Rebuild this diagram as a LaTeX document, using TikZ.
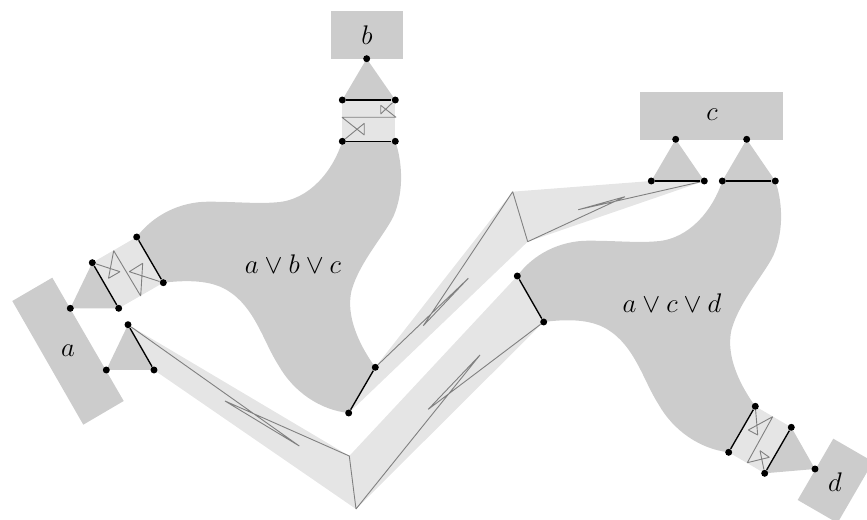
\documentclass[tikz,border=0pt]{standalone}
\usetikzlibrary{backgrounds}
\begin{document}
\begin{tikzpicture}[x=0.446pt, y=-0.446pt,
  port/.style={shape=circle, fill=black, inner sep=0pt, minimum size=3.1pt, node contents=},
  base/.style={draw=black, line width=0.6pt},
  strand/.style={draw=black!50, line width=0.4pt, line join=bevel},
  block/.style={fill=black!20},
  body/.style={fill=black!20},
  wire/.style={fill=black!10},
  lab/.style={font=\large},
]
\useasboundingbox (0,0) rectangle (867,520);
\clip (0,0) rectangle (867,520);

%ports at a
\draw node (a1) at (70.3,308.3) [port] node (a2) at (92.3,262.7) [port] node (a3) at (118.7,308.3) [port];
\draw node (a4) at (136.7,237) [port] node (a5) at (163.3,282.7) [port];
\draw node (a6) at (106.3,370) [port] node (a7) at (128,324.7) [port] node (a8) at (154,370) [port];

%ports at b
\draw node (b1) at (366.7,58.7) [port] node (b2) at (342.3,100) [port] node (b3) at (395.3,100) [port];
\draw node (b4) at (342.3,141.3) [port] node (b5) at (395.3,141.3) [port];

%ports at c
\draw node (c1) at (675.7,139.3) [port] node (c2) at (651.3,181) [port] node (c3) at (704.3,181) [port];
\draw node (c4) at (746.7,139.3) [port] node (c5) at (722.3,181) [port] node (c6) at (775.3,181) [port];

%ports at d
\draw node (d1) at (815,469) [port] node (d2) at (791.3,427.3) [port] node (d3) at (764.7,473.3) [port];
\draw node (d4) at (755.3,406.3) [port] node (d5) at (728.7,452.3) [port];

%ports of the two joins
\draw node (e1) at (375.3,367.3) [port] node (e2) at (348.7,413) [port];
\draw node (f1) at (517.3,276) [port] node (f2) at (543.7,322) [port];

\begin{scope}[on background layer]
%blocks
\fill[block] (331,11) rectangle (403,59);
\fill[block] (640,92) rectangle (783,140);
\fill[block] (12.3,301) -- (52.3,277.7) -- (123.7,401) -- (83.3,424.7) -- cycle;
\fill[block] (833.3,438.7) -- (873.1,461.7) -- (837.5,523) -- (797.7,500) -- cycle;

%wires
\fill[wire] (a2.center) -- (a4.center) -- (a5.center) -- (a3.center) -- cycle;
\fill[wire] (b2.center) -- (b3.center) -- (b5.center) -- (b4.center) -- cycle;
\fill[wire] (d4.center) -- (d2.center) -- (d3.center) -- (d5.center) -- cycle;
\fill[wire] (a7.center) -- (349.3,456) -- (f1.center) -- (f2.center) -- (356,509) -- (a8.center) -- cycle;
\fill[wire] (e1.center) -- (512.7,191.7) -- (c2.center) -- (c3.center) -- (527.7,241.7) -- (e2.center) -- cycle;

%triangles
\fill[body] (a1.center) -- (a2.center) -- (a3.center) -- cycle;
\fill[body] (a6.center) -- (a7.center) -- (a8.center) -- cycle;
\fill[body] (b1.center) -- (b2.center) -- (b3.center) -- cycle;
\fill[body] (c1.center) -- (c2.center) -- (c3.center) -- cycle;
\fill[body] (c4.center) -- (c5.center) -- (c6.center) -- cycle;
\fill[body] (d1.center) -- (d2.center) -- (d3.center) -- cycle;

%bodies
\fill[body] (a4.center) .. controls (153.3,215) and (180,201.7) .. (208.3,201.7)
  .. controls (236.7,201.7) and (256.7,204) .. (276.7,202.3)
  .. controls (310,200) and (333.3,170) .. (b4.center)
  -- (b5.center) .. controls (401.7,160) and (405,190) .. (393.3,216.7)
  .. controls (383.3,236.7) and (360,261.7) .. (351.7,290)
  .. controls (346.7,310) and (353.3,336.7) .. (e1.center)
  -- (e2.center) .. controls (320,410) and (293.3,391.7) .. (278.3,365)
  .. controls (263.3,341.7) and (255,306.7) .. (226.7,290)
  .. controls (210,280) and (186.7,280) .. (a5.center) -- cycle;
\fill[body] (f1.center) .. controls (533.3,254) and (560,240.7) .. (588.3,240.7)
  .. controls (616.7,240.7) and (636.7,243) .. (656.7,241.3)
  .. controls (690,239) and (713.3,209) .. (c5.center)
  -- (c6.center) .. controls (781.7,199) and (785,229) .. (773.3,255.7)
  .. controls (763.3,275.7) and (740,300.7) .. (731.7,329)
  .. controls (726.7,349) and (733.3,375.7) .. (d4.center)
  -- (d5.center) .. controls (700,449) and (673.3,430.7) .. (658.3,404)
  .. controls (643.3,380.7) and (635,345.7) .. (606.7,329)
  .. controls (590,319) and (566.7,319) .. (f2.center) -- cycle;
\end{scope}

%strands
\draw[strand] (a2) -- (120,271.7) -- (108.5,278.3) -- (113.7,250.7) -- (140.7,296) -- (142.7,263.3) -- (129.3,271.7) -- (a5);
\draw[strand] (b3) -- (380.7,114) -- (380.7,105.3) -- (396,117.3) -- (342,117.3) -- (364.3,135) -- (364.3,123.3) -- (b4);
\draw[strand] (d4) -- (757.7,435) -- (748.3,430) -- (772.7,416.7) -- (747.3,462.7) -- (769.3,457.3) -- (760,450.7) -- (d3);
\draw[strand] (a7) -- (299.3,446) -- (225,401) -- (349.3,456) -- (356,509) -- (480,355) -- (428.3,409.3) -- (f2);
\draw[strand] (e1) -- (468.3,278.3) -- (423.3,325.7) -- (512.7,191.7) -- (527.7,241.7) -- (625,196.7) -- (578.3,209.7) -- (c3);

%edges
\draw[base] (a2) -- (a3);
\draw[base] (a4) -- (a5);
\draw[base] (a7) -- (a8);
\draw[base] (b2) -- (b3);
\draw[base] (b4) -- (b5);
\draw[base] (c2) -- (c3);
\draw[base] (c5) -- (c6);
\draw[base] (d2) -- (d3);
\draw[base] (d4) -- (d5);
\draw[base] (e1) -- (e2);
\draw[base] (f1) -- (f2);

%labels
\node[lab] (la) at (68,351) {$a$};
\node[lab] (lb) at (367,35) {$b$};
\node[lab] (lc) at (712,115) {$c$};
\node[lab] (ld) at (835,482) {$d$};
\node[lab] (labc) at (293,264) {$a\vee b\vee c$};
\node[lab] (lacd) at (672,303) {$a\vee c\vee d$};

\end{tikzpicture}
\end{document}
